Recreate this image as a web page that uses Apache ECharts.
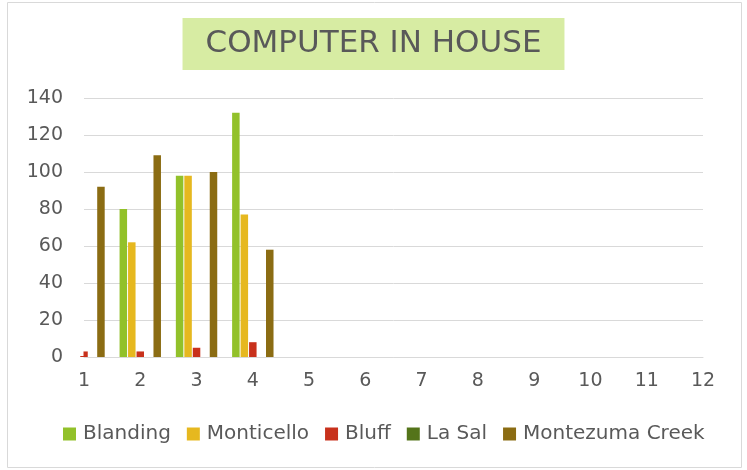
<!DOCTYPE html>
<html><head><meta charset="utf-8">
<script src="https://cdn.jsdelivr.net/npm/echarts@6/dist/echarts.min.js"></script>
<style>html,body{margin:0;padding:0;background:#fff}#c{width:747px;height:470px}</style>
</head><body><div id="c"></div>
<script>
var categories = ['1','2','3','4','5','6','7','8','9','10','11','12'];
var blanding = [null, 80, 98, 132, null, null, null, null, null, null, null, null];
var monticello = [null, 62, 98, 77, null, null, null, null, null, null, null, null];
var bluff = [3, 3, 5, 8, null, null, null, null, null, null, null, null];
var laSal = [0, 0, 0, 0, null, null, null, null, null, null, null, null];
var montezumaCreek = [92, 109, 100, 58, null, null, null, null, null, null, null, null];
var seriesNames = ['Blanding', 'Monticello', 'Bluff', 'La Sal', 'Montezuma Creek'];
var seriesData = [blanding, monticello, bluff, laSal, montezumaCreek];
var colors = ['#92c12a', '#e6b81f', '#c8311c', '#54741a', '#8b6c13'];
var font = 'DejaVu Sans';
var chart = echarts.init(document.getElementById('c'));
chart.setOption({
  animation: false,
  color: colors,
  graphic: [
    {type: 'rect', z: 100, shape: {x: 66, y: 90, width: 17.5, height: 266}, style: {fill: '#ffffff'}},
    {type: 'rect', shape: {x: 7.5, y: 2.5, width: 734, height: 465}, style: {fill: 'none', stroke: '#d9d9d9', lineWidth: 1}}
  ],
  title: {
    text: 'COMPUTER IN HOUSE', left: 'center', top: 18,
    backgroundColor: '#d7eca3', padding: [8, 23, 8, 23],
    textStyle: {fontFamily: font, fontSize: 31, lineHeight: 36, fontWeight: 'normal', color: '#595959'}
  },
  legend: {
    top: 419, left: 58, itemWidth: 13, itemHeight: 13, itemGap: 16,
    icon: 'rect',
    textStyle: {fontFamily: font, fontSize: 20, color: '#595959', padding: [0, 0, 0, 2]},
    data: seriesNames
  },
  grid: {left: 84, right: 44, top: 98, bottom: 113, containLabel: false},
  xAxis: {
    type: 'category', data: categories, boundaryGap: false,
    axisLine: {lineStyle: {color: '#d9d9d9'}}, axisTick: {show: false},
    axisLabel: {fontFamily: font, fontSize: 19, color: '#595959', margin: 15}
  },
  yAxis: {
    type: 'value', min: 0, max: 140, interval: 20,
    axisLine: {show: false}, axisTick: {show: false},
    splitLine: {lineStyle: {color: '#d9d9d9', width: 1}},
    axisLabel: {fontFamily: font, fontSize: 19, color: '#595959', margin: 21}
  },
  series: seriesNames.map(function (n, i) {
    return {name: n, type: 'bar', data: seriesData[i], barWidth: 7.5, barGap: '13%'};
  })
});
</script></body></html>
